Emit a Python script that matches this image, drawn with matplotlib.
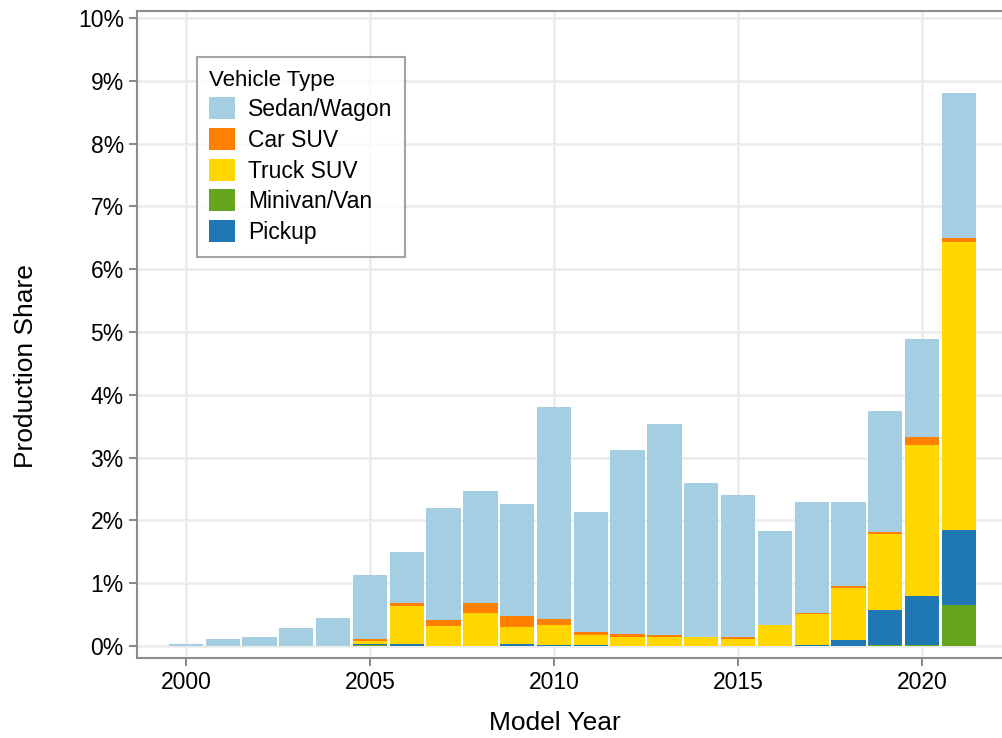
import matplotlib.pyplot as plt
import numpy as np

plt.rcParams['font.family'] = ['Liberation Sans', 'DejaVu Sans']

years = list(range(2000, 2022))

# production share (%) by vehicle type, stacked bottom -> top
minivan = [0, 0, 0, 0, 0, 0.01, 0, 0, 0, 0, 0, 0, 0, 0, 0, 0, 0, 0, 0, 0.01, 0.01, 0.65]
pickup = [0, 0, 0, 0, 0, 0.02, 0.03, 0, 0, 0.03, 0.01, 0.01, 0, 0, 0, 0, 0, 0.02, 0.09, 0.56, 0.79, 1.19]
truck_suv = [0, 0, 0, 0, 0, 0.05, 0.60, 0.32, 0.53, 0.27, 0.32, 0.16, 0.14, 0.15, 0.15, 0.12, 0.33, 0.49, 0.83, 1.21, 2.40, 4.60]
car_suv = [0, 0, 0, 0, 0, 0.03, 0.05, 0.095, 0.16, 0.175, 0.10, 0.06, 0.05, 0.03, 0, 0.03, 0.005, 0.01, 0.03, 0.03, 0.13, 0.06]
sedan = [0.04, 0.12, 0.15, 0.29, 0.45, 1.02, 0.81, 1.78, 1.78, 1.78, 3.38, 1.91, 2.93, 3.36, 2.44, 2.25, 1.50, 1.77, 1.34, 1.93, 1.56, 2.31]

series = [
    ('Minivan/Van', minivan, '#66a61e'),
    ('Pickup', pickup, '#1f78b4'),
    ('Truck SUV', truck_suv, '#ffd600'),
    ('Car SUV', car_suv, '#ff7f00'),
    ('Sedan/Wagon', sedan, '#a6cee3'),
]

fig = plt.figure(figsize=(10.03, 7.38), dpi=100)
ax = fig.add_axes([0.1366, 0.1084, 0.8634, 0.8766])

bottom = np.zeros(len(years))
handles = {}
for name, vals, color in series:
    b = ax.bar(years, vals, bottom=bottom, width=0.93, color=color, label=name, zorder=2)
    handles[name] = b
    bottom += np.array(vals)

ax.set_xlim(1998.67, 2022.2)
ax.set_ylim(-0.19, 10.11)
ax.set_xticks(range(2000, 2021, 5))
ax.set_yticks(range(0, 11))
ax.set_yticklabels([f'{i}%' for i in range(0, 11)])
ax.grid(True, color='#ebebeb', linewidth=1.8, zorder=0)
ax.set_axisbelow(True)

for s in ['left', 'bottom', 'top']:
    ax.spines[s].set_color('#8c8c8c')
    ax.spines[s].set_linewidth(1.5)
ax.spines['right'].set_visible(False)
ax.tick_params(axis='both', colors='#8c8c8c', labelcolor='black', labelsize=16.5, length=6, width=1.5)

ax.set_xlabel('Model Year', fontsize=19, labelpad=12)
ax.set_ylabel('Production Share', fontsize=19, labelpad=29)
# labels sit a bit off the axes centre in the original
ax.xaxis.label.set_x(0.483)
ax.yaxis.label.set_y(0.451)

order = ['Sedan/Wagon', 'Car SUV', 'Truck SUV', 'Minivan/Van', 'Pickup']
leg = ax.legend([handles[n] for n in order], order, title='Vehicle Type', loc='upper left',
                bbox_to_anchor=(0.069, 0.929), borderaxespad=0, fontsize=16.5, title_fontsize=16,
                frameon=True, fancybox=False, handlelength=1.1, handleheight=1.1,
                labelspacing=0.3, handletextpad=0.6, borderpad=0.55)
leg._legend_box.align = 'left'
leg.get_frame().set_edgecolor('#8c8c8c')
leg.get_frame().set_linewidth(1.5)

fig.savefig('out.png', dpi=100)
